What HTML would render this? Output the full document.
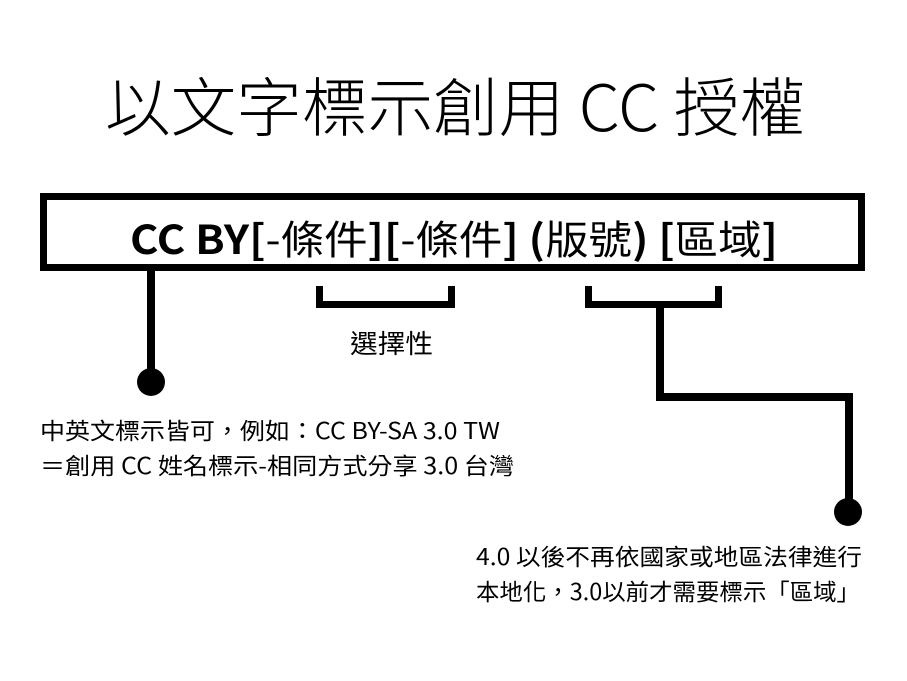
<!DOCTYPE html>
<html><head><meta charset="utf-8"><style>
html,body{margin:0;padding:0;background:#fff;}
svg{display:block;}
text{font-family:"Liberation Sans","Noto Sans CJK TC",sans-serif;fill:#000;}
</style></head><body>
<svg width="907" height="681" viewBox="0 0 907 681" xmlns="http://www.w3.org/2000/svg">
<text x="105" y="131" font-size="64" font-weight="300" textLength="700" lengthAdjust="spacingAndGlyphs" style="font-family:'Noto Sans CJK TC',sans-serif">以文字標示創用 CC 授權</text>
<rect x="43.5" y="196.5" width="818" height="71" fill="none" stroke="#000" stroke-width="7"/>
<text x="130" y="254" font-size="40" textLength="648" lengthAdjust="spacingAndGlyphs" style="font-family:'Noto Sans CJK TC',sans-serif"><tspan font-weight="700">CC BY[</tspan>-條件<tspan font-weight="700">][</tspan>-條件<tspan font-weight="700">] (</tspan>版號<tspan font-weight="700">) [</tspan>區域<tspan font-weight="700">]</tspan></text>
<line x1="151" y1="270" x2="151" y2="380" stroke="#000" stroke-width="8"/>
<circle cx="151" cy="382" r="14"/>
<path d="M319.5 286 V304.5 H451.5 V286" fill="none" stroke="#000" stroke-width="7"/>
<path d="M588.5 286 V304.5 H718.5 V286" fill="none" stroke="#000" stroke-width="7"/>
<path d="M660 308 V397 H849 V505" fill="none" stroke="#000" stroke-width="8"/>
<circle cx="848" cy="512" r="14"/>
<text x="350" y="353" font-size="26" textLength="83" lengthAdjust="spacingAndGlyphs" style="font-family:'Noto Sans CJK TC',sans-serif">選擇性</text>
<text x="40" y="439" font-size="23" textLength="460" lengthAdjust="spacingAndGlyphs" style="font-family:'Noto Sans CJK TC',sans-serif">中英文標示皆可，例如：CC BY-SA 3.0 TW</text>
<text x="40" y="474" font-size="23" textLength="474" lengthAdjust="spacingAndGlyphs" style="font-family:'Noto Sans CJK TC',sans-serif">＝創用 CC 姓名標示-相同方式分享 3.0 台灣</text>
<text x="476" y="565" font-size="23" textLength="386" lengthAdjust="spacingAndGlyphs" style="font-family:'Noto Sans CJK TC',sans-serif">4.0 以後不再依國家或地區法律進行</text>
<text x="476" y="600" font-size="23" textLength="384" lengthAdjust="spacingAndGlyphs" style="font-family:'Noto Sans CJK TC',sans-serif">本地化，3.0以前才需要標示「區域」</text>
</svg>
</body></html>
